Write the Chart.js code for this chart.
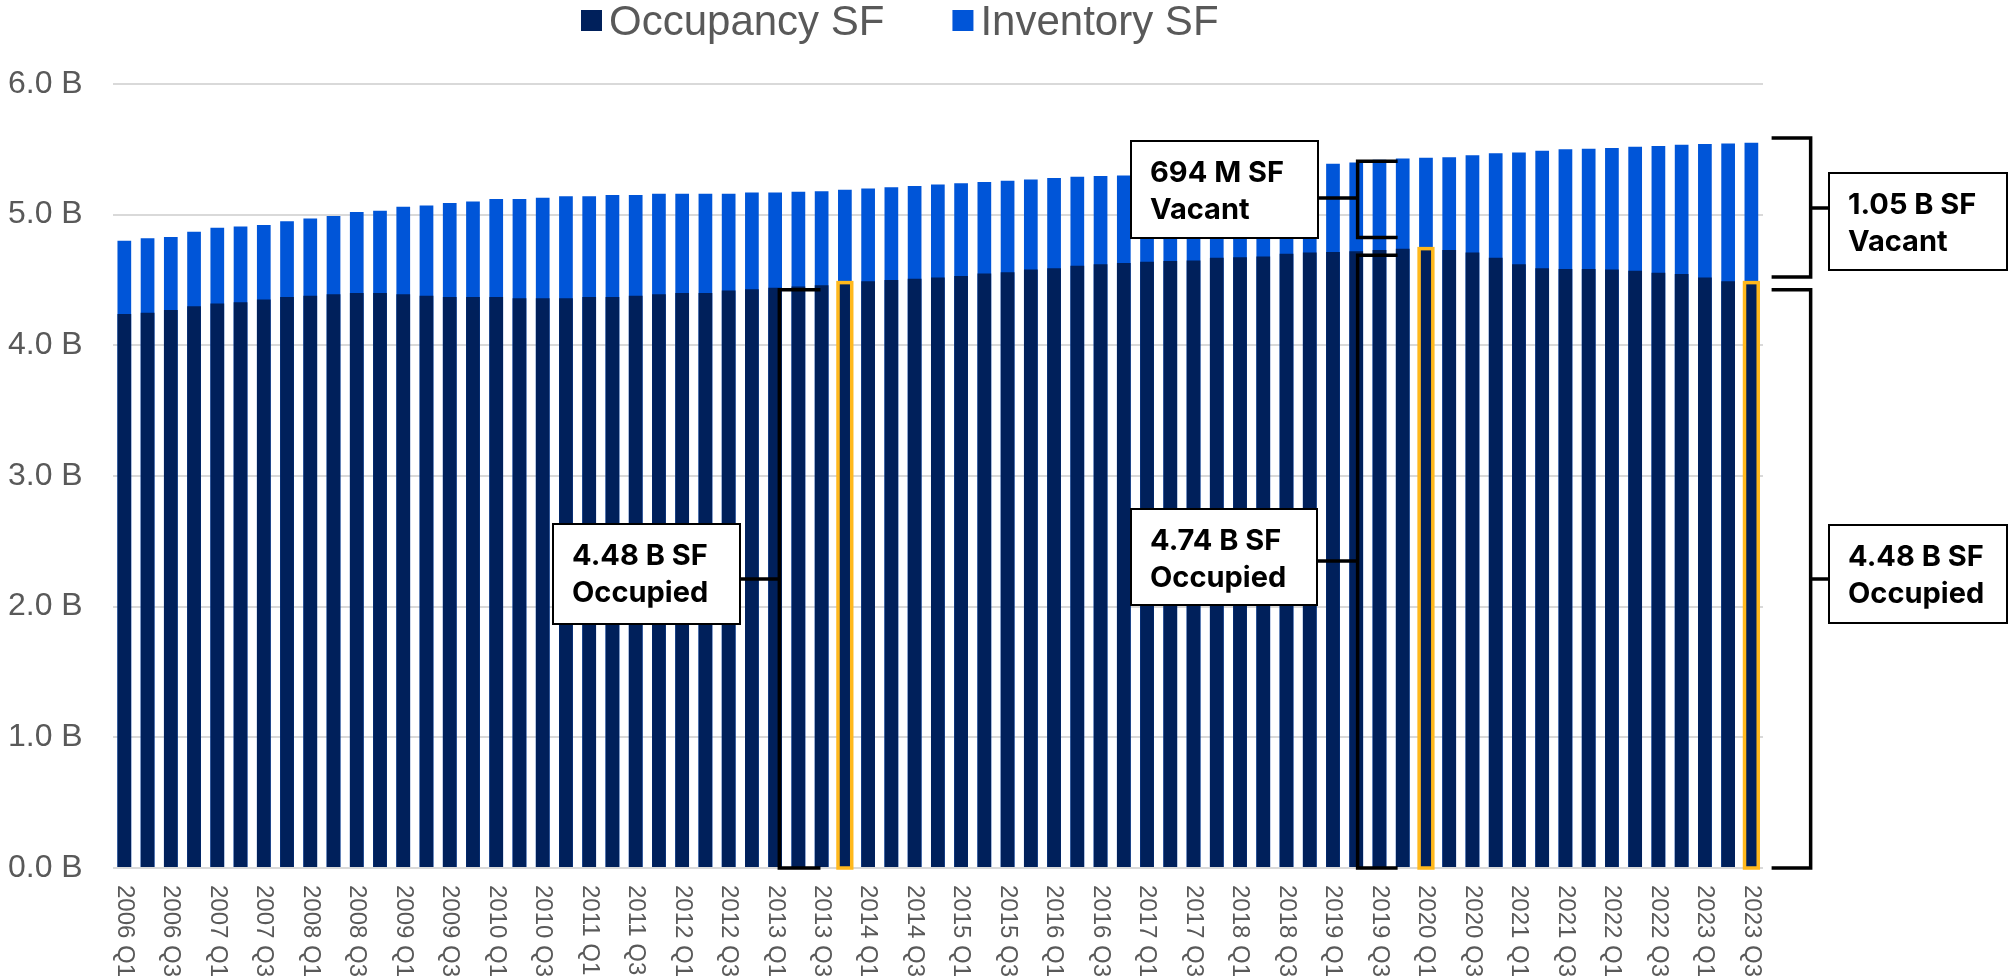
<!DOCTYPE html>
<html><head><meta charset="utf-8">
<script src="https://cdn.jsdelivr.net/npm/chart.js@4.4.1/dist/chart.umd.min.js"></script>
<style>html,body{margin:0;padding:0;background:#fff;}#wrap{width:2010px;height:980px;}</style>
</head><body><div id="wrap"><canvas id="c" width="2010" height="980"></canvas></div>
<script>
const categories = [
 '2006 Q1','2006 Q2','2006 Q3','2006 Q4','2007 Q1','2007 Q2','2007 Q3','2007 Q4',
 '2008 Q1','2008 Q2','2008 Q3','2008 Q4','2009 Q1','2009 Q2','2009 Q3','2009 Q4',
 '2010 Q1','2010 Q2','2010 Q3','2010 Q4','2011 Q1','2011 Q2','2011 Q3','2011 Q4',
 '2012 Q1','2012 Q2','2012 Q3','2012 Q4','2013 Q1','2013 Q2','2013 Q3','2013 Q4',
 '2014 Q1','2014 Q2','2014 Q3','2014 Q4','2015 Q1','2015 Q2','2015 Q3','2015 Q4',
 '2016 Q1','2016 Q2','2016 Q3','2016 Q4','2017 Q1','2017 Q2','2017 Q3','2017 Q4',
 '2018 Q1','2018 Q2','2018 Q3','2018 Q4','2019 Q1','2019 Q2','2019 Q3','2019 Q4',
 '2020 Q1','2020 Q2','2020 Q3','2020 Q4','2021 Q1','2021 Q2','2021 Q3','2021 Q4',
 '2022 Q1','2022 Q2','2022 Q3','2022 Q4','2023 Q1','2023 Q2','2023 Q3'
];
// billions of square feet
const occupancySF = [
 4.24,4.25,4.27,4.30,4.32,4.33,4.35,4.37,
 4.38,4.39,4.40,4.40,4.39,4.38,4.37,4.37,
 4.37,4.36,4.36,4.36,4.37,4.37,4.38,4.39,
 4.40,4.40,4.42,4.43,4.44,4.45,4.46,4.48,
 4.49,4.50,4.51,4.52,4.53,4.55,4.56,4.58,
 4.59,4.61,4.62,4.63,4.64,4.645,4.65,4.67,
 4.675,4.68,4.70,4.71,4.715,4.72,4.73,4.74,
 4.74,4.73,4.71,4.67,4.62,4.59,4.585,4.585,
 4.58,4.57,4.555,4.545,4.52,4.49,4.48
];
const inventorySF = [
 4.80,4.82,4.83,4.87,4.90,4.91,4.92,4.95,
 4.97,4.99,5.02,5.03,5.06,5.07,5.09,5.10,
 5.12,5.12,5.13,5.14,5.14,5.15,5.15,5.16,
 5.16,5.16,5.16,5.17,5.17,5.175,5.18,5.19,
 5.20,5.21,5.22,5.23,5.24,5.25,5.26,5.27,
 5.28,5.29,5.295,5.30,5.31,5.32,5.33,5.34,
 5.35,5.36,5.37,5.38,5.39,5.40,5.42,5.43,
 5.435,5.44,5.455,5.47,5.475,5.49,5.50,5.505,
 5.51,5.52,5.525,5.535,5.54,5.545,5.55
];
const tickLabels = categories.filter((c, i) => i % 2 === 0);
const highlightIdx = [31, 56, 70];

const seriesNames = ['Occupancy SF', 'Inventory SF'];
const seriesColors = ['#00205B', '#0055D8'];

// callout brackets: bx/tickTo in category-index units, v0/v1 in billions; boxes in px
const callouts = [
 {lines:['4.48 B SF','Occupied'], side:'left',  bx:28.18, tickTo:29.95, v0:0,     v1:4.426, box:[553,524,187,100], connY:579},
 {lines:['694 M SF','Vacant'],    side:'left',  bx:53.06, tickTo:54.78, v0:4.826, v1:5.408, box:[1131,141,187,97], connY:198},
 {lines:['4.74 B SF','Occupied'], side:'left',  bx:53.06, tickTo:54.78, v0:0,     v1:4.69,  box:[1131,509,186,96], connY:561},
 {lines:['1.05 B SF','Vacant'],   side:'right', bx:72.55, tickTo:70.87, v0:4.523, v1:5.587, box:[1829,173,178,97], connY:208},
 {lines:['4.48 B SF','Occupied'], side:'right', bx:72.55, tickTo:70.87, v0:0,     v1:4.426, box:[1829,525,178,98], connY:579}
];

const decor = {
 id: 'decor',
 afterDatasetsDraw(chart) {
   const ctx = chart.ctx;
   const meta = chart.getDatasetMeta(0);
   ctx.save();
   ctx.strokeStyle = '#FFB81C';
   ctx.lineWidth = 3.5;
   highlightIdx.forEach(i => {
     const el = meta.data[i];
     const p = el.getProps(['x','y','base','width'], true);
     ctx.strokeRect(p.x - p.width/2, p.y, p.width, p.base - p.y + 1);
   });
   ctx.restore();
 },
 afterDraw(chart) {
   const ctx = chart.ctx;
   const xs = chart.scales.x, ys = chart.scales.y;
   ctx.save();
   // legend
   ctx.font = '42px "Liberation Sans", Arial, sans-serif';
   ctx.textBaseline = 'alphabetic';
   const box = 21, gapT = 7, gapItem = 68;
   const widths = chart.data.datasets.map(d => ctx.measureText(d.label).width);
   let x = 581;
   chart.data.datasets.forEach((d, i) => {
     ctx.fillStyle = d.backgroundColor;
     ctx.fillRect(x, 10, box, box);
     ctx.fillStyle = '#595959';
     ctx.fillText(d.label, x + box + gapT, 35);
     x += box + gapT + widths[i] + gapItem;
   });
   // x tick labels, rotated clockwise
   ctx.font = '24px "Liberation Sans", Arial, sans-serif';
   ctx.fillStyle = '#595959';
   ctx.textAlign = 'left';
   ctx.textBaseline = 'middle';
   categories.forEach((c, i) => {
     if (!tickLabels.includes(c)) return;
     const px = xs.getPixelForValue(i);
     ctx.save();
     ctx.translate(px, chart.chartArea.bottom + 17);
     ctx.rotate(Math.PI / 2);
     ctx.fillText(c, 0, 0);
     ctx.restore();
   });
   // callouts
   callouts.forEach(c => {
     const vx = xs.getPixelForValue(c.bx), tx = xs.getPixelForValue(c.tickTo);
     const y0 = ys.getPixelForValue(c.v0), y1 = ys.getPixelForValue(c.v1);
     ctx.strokeStyle = '#000';
     ctx.lineWidth = 3.5;
     ctx.lineJoin = 'miter';
     ctx.beginPath();
     ctx.moveTo(tx, y1); ctx.lineTo(vx, y1); ctx.lineTo(vx, y0); ctx.lineTo(tx, y0);
     ctx.stroke();
     const [bx, by, bw, bh] = c.box;
     const ex = c.side === 'left' ? bx + bw : bx;
     ctx.beginPath();
     ctx.moveTo(ex, c.connY); ctx.lineTo(vx, c.connY);
     ctx.stroke();
     ctx.fillStyle = '#fff';
     ctx.fillRect(bx, by, bw, bh);
     ctx.lineWidth = 2;
     ctx.strokeRect(bx, by, bw, bh);
     ctx.fillStyle = '#000';
     ctx.font = '700 29px Inter, "Noto Sans", sans-serif';
     ctx.textAlign = 'left';
     ctx.textBaseline = 'alphabetic';
     ctx.fillText(c.lines[0], bx + 19, by + 41);
     ctx.fillText(c.lines[1], bx + 19, by + 78);
   });
   ctx.restore();
 }
};

new Chart(document.getElementById('c'), {
 type: 'bar',
 data: {
   labels: categories,
   datasets: [
     {label: seriesNames[0], data: occupancySF, backgroundColor: seriesColors[0], borderWidth: 0},
     {label: seriesNames[1], data: inventorySF, backgroundColor: seriesColors[1], borderWidth: 0}
   ]
 },
 options: {
   responsive: false,
   animation: false,
   layout: {padding: {left: 8, right: 247, top: 84, bottom: 112}},
   datasets: {bar: {categoryPercentage: 1, barPercentage: 0.59}},
   plugins: {legend: {display: false}, tooltip: {enabled: false}},
   scales: {
     x: {stacked: true, display: false},
     y: {
       stacked: false, min: 0, max: 6,
       grid: {color: '#d9d9d9', lineWidth: 2, drawTicks: false},
       border: {display: false},
       ticks: {stepSize: 1, padding: 30, color: '#595959',
               font: {family: '"Liberation Sans", Arial, sans-serif', size: 32},
               callback: v => v.toFixed(1) + ' B'},
       afterFit(s) { s.width = 104.7; }
     }
   }
 },
 plugins: [decor]
});
</script></body></html>
